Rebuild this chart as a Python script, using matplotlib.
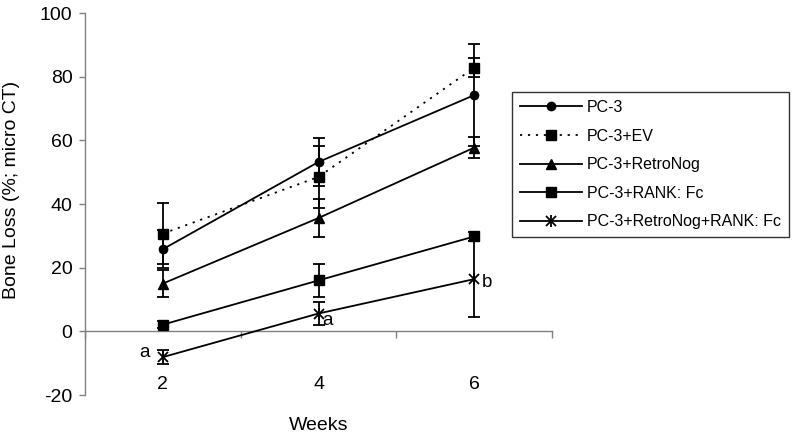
import numpy as np
import matplotlib.pyplot as plt
from matplotlib.legend_handler import HandlerTuple

plt.rcParams['font.family'] = ['Liberation Sans', 'DejaVu Sans']
plt.rcParams['axes.unicode_minus'] = False

# Datos
weeks = ['2', '4', '6']
pc3 = [25.8, 53.2, 74.2]
pc3_err = [6.0, 7.6, 16.0]
pc3_ev = [30.7, 48.5, 82.8]
pc3_ev_err = [9.7, 9.7, 3.0]
retronog = [15.0, 35.6, 57.7]
retronog_err = [4.2, 6.0, 3.3]
rank_fc = [2.1, 16.0, 29.8]
rank_fc_err = [1.0, 5.3, 1.5]
retronog_rank = [-8.1, 5.6, 16.4]
retronog_rank_err = [2.1, 3.7, 12.0]

fig = plt.figure(figsize=(8, 4.4), dpi=100)
ax = fig.add_axes([85 / 800, 1 - 395 / 440, (552 - 85) / 800, (395 - 13) / 440])

x = np.arange(len(weeks)) + 0.5
lw = 1.3
eb = dict(ecolor='black', elinewidth=1.3, capsize=4.3, capthick=1.3, zorder=2)

ax.errorbar(x, pc3, yerr=pc3_err, fmt='none', **eb)
ax.errorbar(x, pc3_ev, yerr=pc3_ev_err, fmt='none', **eb)
ax.errorbar(x, retronog, yerr=retronog_err, fmt='none', **eb)
ax.errorbar(x, rank_fc, yerr=rank_fc_err, fmt='none', **eb)
ax.errorbar(x, retronog_rank, yerr=retronog_rank_err, fmt='none', **eb)

l1, = ax.plot(x, pc3, color='black', lw=lw, marker='o', ms=6, zorder=3)
l2, = ax.plot(x, pc3_ev, color='black', lw=lw, ls=(0, (1.2, 3.2)), marker='s', ms=6.5, zorder=3)
l3, = ax.plot(x, retronog, color='black', lw=lw, marker='^', ms=7, zorder=3)
l4, = ax.plot(x, rank_fc, color='black', lw=lw, marker='s', ms=6.5, zorder=3)
l5a, = ax.plot(x, retronog_rank, color='black', lw=lw, marker='x', ms=7, mew=1.3, zorder=3)
l5b, = ax.plot(x, retronog_rank, color='none', marker='|', ms=8, mew=1.3, mec='black', zorder=3)

# letras de significancia
ax.text(0.385, -6.5, 'a', fontsize=13.5, ha='center', va='center')
ax.text(1.56, 3.4, 'a', fontsize=13.5, ha='center', va='center')
ax.text(2.58, 15.2, 'b', fontsize=13.5, ha='center', va='center')

ax.set_xlim(0, 3)
ax.set_ylim(-20, 100)
ax.set_yticks(range(-20, 101, 20))
ax.tick_params(axis='y', labelsize=14, length=4, width=1, color='#808080', pad=5)

# eje x en y=0 con marcas entre categorias
ax.spines['top'].set_visible(False)
ax.spines['right'].set_visible(False)
ax.spines['bottom'].set_position(('data', 0))
for s in ['left', 'bottom']:
    ax.spines[s].set_color('#808080')
    ax.spines[s].set_linewidth(1)
ax.set_xticks([0, 1, 2, 3])
ax.set_xticklabels([])
ax.tick_params(axis='x', length=5, width=1, color='#808080')
for xi, w in zip(x, weeks):
    ax.text(xi, -16.8, w, fontsize=14, ha='center', va='center')

ax.set_xlabel('Weeks', fontsize=14, va='center')
ax.xaxis.set_label_coords(0.5, -30 / 382)
ax.set_ylabel('Bone Loss (%; micro CT)', fontsize=14, va='center')
ax.yaxis.set_label_coords(-73 / 467, 0.537)

handles = [l1, l2, l3, l4, (l5a, l5b)]
labels = ['PC-3', 'PC-3+EV', 'PC-3+RetroNog', 'PC-3+RANK: Fc', 'PC-3+RetroNog+RANK: Fc']
leg = fig.legend(handles, labels, loc='upper left', bbox_to_anchor=(512 / 800, 1 - 92 / 440),
                 borderaxespad=0, fontsize=11.5, frameon=True, fancybox=False, edgecolor='black',
                 handlelength=3.9, handletextpad=0.3, labelspacing=0.85, borderpad=0.5,
                 handler_map={tuple: HandlerTuple(ndivide=1)})
leg.get_frame().set_linewidth(1)

plt.savefig('out.png', dpi=100)
